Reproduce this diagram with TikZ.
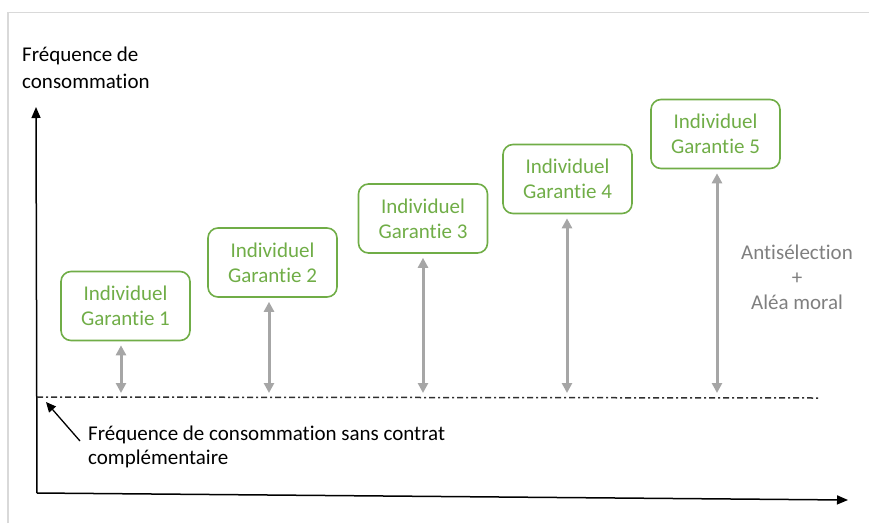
\documentclass[tikz,border=0pt]{standalone}
\usepackage{fontspec}
\setmainfont{Carlito}[Ligatures={NoCommon}]
\usetikzlibrary{arrows.meta}
\definecolor{ggreen}{HTML}{70AD47}
\definecolor{garrowc}{HTML}{A6A6A6}
\definecolor{gtext}{HTML}{7F7F7F}
\definecolor{gframe}{HTML}{D9D9D9}
\definecolor{dashc}{HTML}{303030}
\tikzset{
  txt/.style={font=\fontsize{21}{25}\selectfont, inner sep=0pt},
  gbox/.style={txt, draw=ggreen, text=ggreen, line width=1.6pt, rounded corners=10pt,
    align=center, minimum width=129pt, minimum height=69pt},
  garrow/.style={draw=garrowc, line width=3pt, {Triangle[length=10pt,width=10pt]}-{Triangle[length=10pt,width=10pt]}},
  axis/.style={draw=black, line width=1.5pt, -{Triangle[length=11pt,width=9pt]}},
}
\begin{document}
\begin{tikzpicture}[x=1pt,y=-1pt]
\useasboundingbox (0,0) rectangle (869,523);
% frame
\draw[gframe, line width=1.5pt] (8,523) -- (8,12.5) -- (869,12.5);
% axes
\coordinate (O) at (37,493);
\coordinate (Ytip) at (36,107);
\coordinate (Xtip) at (848,500);
\draw[axis] (O) -- (Ytip);
\draw[axis] (O) -- (Xtip);
% title
\node[txt, anchor=base west] (t1) at (22,61) {Fréquence de};
\node[txt, anchor=base west] (t2) at (22,88) {consommation};
% baseline
\coordinate (L0) at (37,397);
\coordinate (L1) at (820,398);
\draw[dashc, line width=1.5pt, dash pattern=on 6pt off 3pt on 2pt off 3pt] (L0) -- (L1);
% caption
\node[txt, anchor=base west] (c1) at (88,440) {Fréquence de consommation sans contrat};
\node[txt, anchor=base west] (c2) at (88,464) {complémentaire};
\coordinate (ctail) at (80,441);
\coordinate (chead) at (46,402);
\draw[black, line width=1.3pt, -{Triangle[length=10pt,width=9pt]}] (ctail) -- (chead);
% boxes
\node[gbox] (g1) at (125.5,306) {Individuel\\Garantie 1};
\node[gbox] (g2) at (272.5,262.5) {Individuel\\Garantie 2};
\node[gbox] (g3) at (423,218.5) {Individuel\\Garantie 3};
\node[gbox] (g4) at (567.5,179) {Individuel\\Garantie 4};
\node[gbox] (g5) at (715.5,134) {Individuel\\Garantie 5};
% arrow feet on baseline
\coordinate (b1) at (121,393);
\coordinate (b2) at (269,393);
\coordinate (b3) at (423,393);
\coordinate (b4) at (567,393);
\coordinate (b5) at (717,393);
\foreach \i in {1,...,5}{
  \draw[garrow] ([yshift=-4pt]b\i |- g\i.south) -- (b\i);
}
% side label
\node[txt, text=gtext, align=center] (anti) at (797,277) {Antisélection\\+\\Aléa moral};
\end{tikzpicture}
\end{document}
